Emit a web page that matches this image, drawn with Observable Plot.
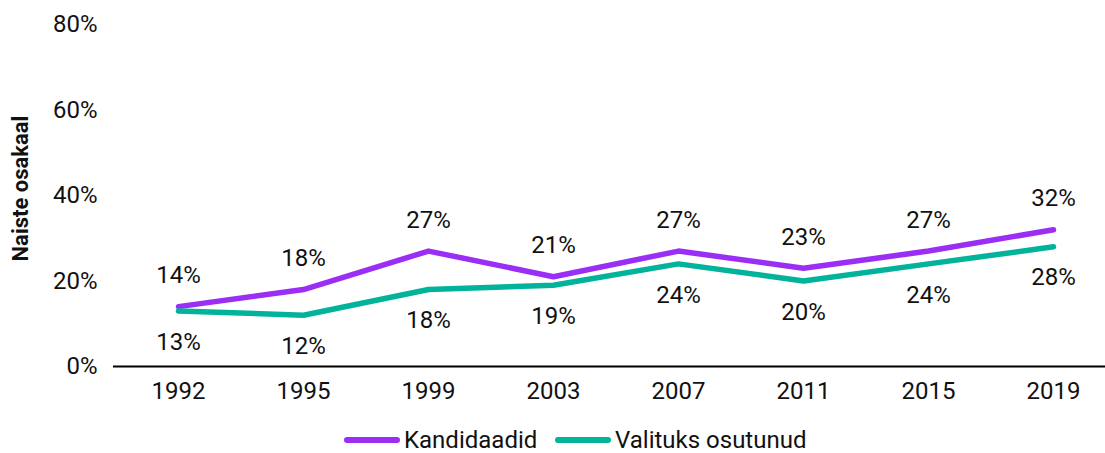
<!DOCTYPE html>
<html>
<head>
<meta charset="utf-8">
<script src="https://cdn.jsdelivr.net/npm/d3@7"></script>
<script src="https://cdn.jsdelivr.net/npm/@observablehq/plot@0.6"></script>
<style>
  html, body { margin: 0; padding: 0; background: #fff; }
  body { width: 1105px; height: 453px; overflow: hidden; font-family: Roboto, sans-serif; }
  #legend { position: relative; height: 43px; font-family: Roboto, sans-serif; font-size: 24px; color: #111; }
  .item { position: absolute; top: 18px; display: flex; align-items: center; height: 24px; line-height: 24px; }
  .sw { display: inline-block; width: 56px; height: 6px; border-radius: 3px; margin-right: 4px; }
</style>
</head>
<body>
<div id="chart"></div>
<div id="legend"></div>
<script>
const years = ["1992", "1995", "1999", "2003", "2007", "2011", "2015", "2019"];
const kandidaadid = [14, 18, 27, 21, 27, 23, 27, 32];
const valitud = [13, 12, 18, 19, 24, 20, 24, 28];
const seriesNames = ["Kandidaadid", "Valituks osutunud"];
const colors = ["#9b2ef5", "#00b39a"];
const yTicks = [0, 20, 40, 60, 80];
const yTitle = "Naiste osakaal";

const data = [];
years.forEach((y, i) => {
  data.push({year: y, value: kandidaadid[i], series: seriesNames[0]});
  data.push({year: y, value: valitud[i], series: seriesNames[1]});
});
const kData = data.filter(d => d.series === seriesNames[0]);
const vData = data.filter(d => d.series === seriesNames[1]);

const fs = 24;
const chart = Plot.plot({
  width: 1105,
  height: 410,
  marginLeft: 113,
  marginRight: 0,
  marginTop: 24,
  marginBottom: 44,
  style: {fontFamily: "Roboto, sans-serif", fontSize: fs + "px", color: "#111", background: "#fff"},
  x: {type: "point", domain: years, range: [176, 1054], padding: 0, label: null},
  y: {domain: [0, 80], label: null},
  color: {domain: seriesNames, range: colors},
  marks: [
    Plot.axisY({ticks: yTicks, tickFormat: d => d + "%", tickSize: 0, tickPadding: 16, label: null, fontSize: fs}),
    Plot.axisX({tickSize: 0, tickPadding: 15, label: null, fontSize: fs}),
    Plot.ruleY([0], {stroke: "#000", strokeWidth: 2}),
    Plot.line(data, {x: "year", y: "value", z: "series", stroke: "series", strokeWidth: 5.5, strokeLinecap: "round", strokeLinejoin: "round"}),
    Plot.text(kData, {x: "year", y: "value", text: d => d.value + "%", dy: -31, fill: "#111", fontSize: fs}),
    Plot.text(vData, {x: "year", y: "value", text: d => d.value + "%", dy: 31, fill: "#111", fontSize: fs}),
    Plot.text([yTitle], {frameAnchor: "left", textAnchor: "middle", dx: -93, dy: -7, rotate: -90, fontWeight: "bold", fontSize: 22, fill: "#111"})
  ]
});
document.getElementById("chart").appendChild(chart);

const legend = document.getElementById("legend");
const positions = [344, 555];
seriesNames.forEach((name, i) => {
  const item = document.createElement("div");
  item.className = "item";
  item.style.left = positions[i] + "px";
  const sw = document.createElement("span");
  sw.className = "sw";
  sw.style.background = colors[i];
  const t = document.createElement("span");
  t.textContent = name;
  item.appendChild(sw);
  item.appendChild(t);
  legend.appendChild(item);
});
</script>
</body>
</html>
